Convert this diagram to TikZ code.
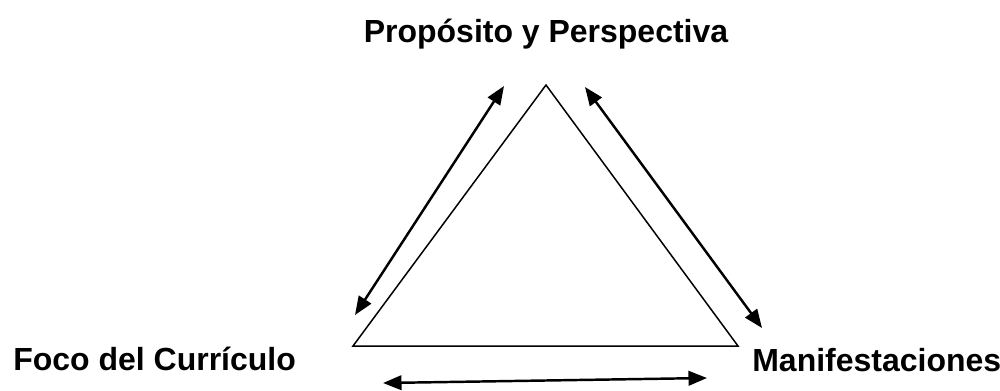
\documentclass[tikz,border=0pt]{standalone}
\usepackage{fontspec}
\setmainfont{Liberation Sans}
\usetikzlibrary{arrows.meta}

\begin{document}
\begin{tikzpicture}[x=0.02cm, y=-0.02cm,
    lbl/.style={font=\fontsize{18.2}{22}\selectfont\bfseries, inner sep=0pt},
    link/.style={line width=1.4pt, {Triangle[length=0.37cm,width=0.29cm]}-{Triangle[length=0.37cm,width=0.29cm]}}]
        \useasboundingbox (0,0) rectangle (1000,390);
        % corners of the triangle
        \coordinate (top) at (546,85);
        \coordinate (bl) at (353,346);
        \coordinate (br) at (738,346);
        \draw[line width=0.85pt, line join=miter] (top) -- (bl) -- (br) -- cycle;
        % labels
        \node[lbl, anchor=base] (prop) at (546,42) {Propósito y Perspectiva};
        \node[lbl, anchor=base west] (foco) at (13,370) {Foco del Currículo};
        \node[lbl, anchor=base west] (manif) at (752,371) {Manifestaciones};
        % arrow ends
        \coordinate (l1) at (355,315);
        \coordinate (l2) at (504,86);
        \coordinate (r1) at (585,87);
        \coordinate (r2) at (762,328);
        \coordinate (b1) at (383,383);
        \coordinate (b2) at (707,378);
        \draw[link] (l1) -- (l2);
        \draw[link] (r1) -- (r2);
        \draw[link] (b1) -- (b2);
      \end{tikzpicture}
\end{document}
